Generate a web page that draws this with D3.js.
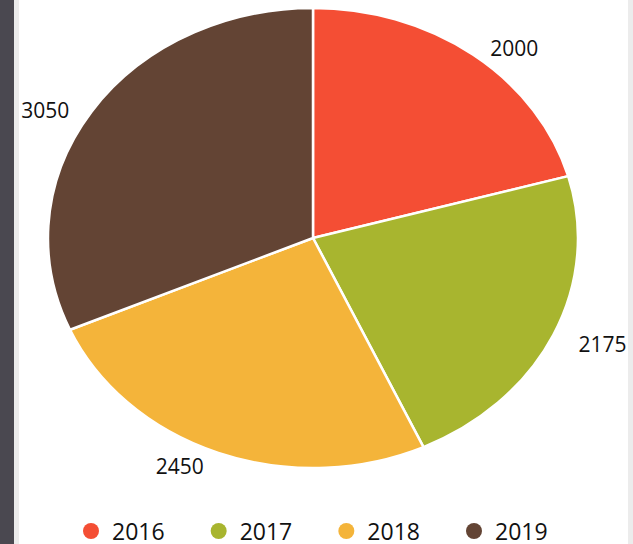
<!DOCTYPE html>
<html>
<head>
<meta charset="utf-8">
<script src="https://cdn.jsdelivr.net/npm/d3@7"></script>
<style>
  html, body { margin: 0; padding: 0; background: #fff; }
  svg { display: block; font-family: "Open Sans", sans-serif; }
</style>
</head>
<body>
<div id="chart"></div>
<script>
const WIDTH = 633;
const HEIGHT = 544;

// data
const years = ["2016", "2017", "2018", "2019"];
const values = [2000, 2175, 2450, 3050];
const colors = ["#f44e34", "#a8b52f", "#f4b43a", "#634434"];

const cx = 313, cy = 238;
const rx = 265, ry = 230;

const svg = d3.select("#chart").append("svg")
  .attr("width", WIDTH)
  .attr("height", HEIGHT);

// page edges from the screenshot
svg.append("rect").attr("x", 0).attr("y", 0).attr("width", 14).attr("height", HEIGHT).attr("fill", "#4a4850");
svg.append("rect").attr("x", 14).attr("y", 0).attr("width", 5).attr("height", HEIGHT).attr("fill", "#ececec");
svg.append("rect").attr("x", 628).attr("y", 0).attr("width", 5).attr("height", HEIGHT).attr("fill", "#ececec");

const color = d3.scaleOrdinal().domain(years).range(colors);

const data = years.map((y, i) => ({ year: y, value: values[i] }));
const pie = d3.pie().sort(null).value(d => d.value);
const arcs = pie(data);

// unit arc, stretched to the ellipse
const arc = d3.arc().innerRadius(0).outerRadius(1);

const g = svg.append("g")
  .attr("transform", `translate(${cx},${cy}) scale(${rx},${ry})`);

g.selectAll("path.slice")
  .data(arcs)
  .enter().append("path")
  .attr("class", "slice")
  .attr("d", arc)
  .attr("fill", d => color(d.data.year))
  .attr("stroke", "#fff")
  .attr("stroke-width", 2.5)
  .attr("vector-effect", "non-scaling-stroke")
  .attr("stroke-linejoin", "round");

// labels outside the slices
const k = 1.1;
svg.selectAll("text.lbl")
  .data(arcs)
  .enter().append("text")
  .attr("class", "lbl")
  .each(function (d) {
    const a = (d.startAngle + d.endAngle) / 2;
    const s = Math.sin(a), c = Math.cos(a);
    let x = cx + rx * k * s;
    let y = cy - ry * k * c;
    if (c > 0.5) y += 11;
    else if (c < -0.5) { y -= 8; x -= 5; }
    d3.select(this)
      .attr("x", s >= 0 ? x + 1 : x)
      .attr("y", y)
      .attr("text-anchor", s >= 0 ? "start" : "end");
  })
  .attr("dominant-baseline", "central")
  .attr("font-size", 21)
  .attr("fill", "#111")
  .text(d => d.data.value);

// legend
const legendX = d3.scalePoint().domain(years).range([91, 474]);
const legend = svg.selectAll("g.leg")
  .data(years)
  .enter().append("g")
  .attr("class", "leg")
  .attr("transform", d => `translate(${legendX(d)},531)`);

legend.append("circle")
  .attr("r", 8)
  .attr("fill", d => color(d));

legend.append("text")
  .attr("x", 21)
  .attr("dominant-baseline", "central")
  .attr("font-size", 23)
  .attr("fill", "#111")
  .text(d => d);
</script>
</body>
</html>
